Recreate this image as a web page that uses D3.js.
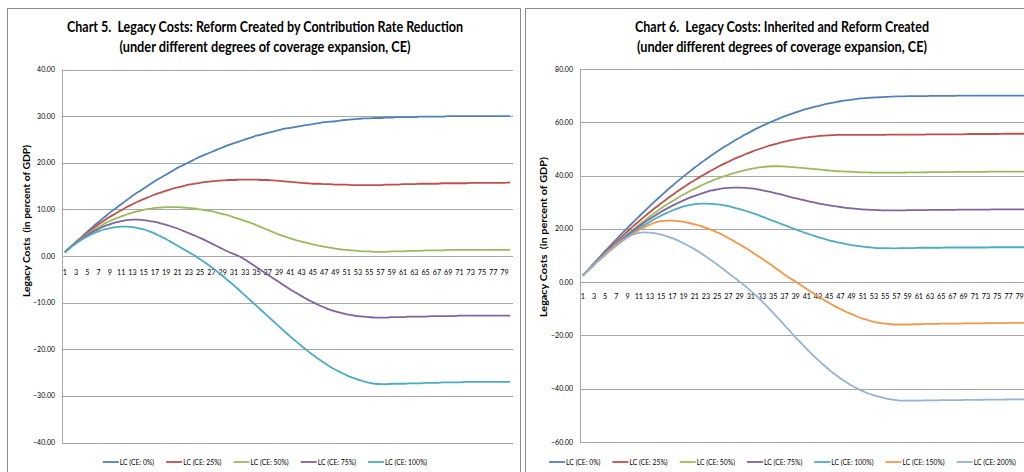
<!DOCTYPE html>
<html>
<head>
<meta charset="utf-8">
<script src="https://cdn.jsdelivr.net/npm/d3@7"></script>
<style>
body { margin: 0; background: #fff; }
text { font-family: Lato, "Open Sans", sans-serif; fill: #000; white-space: pre; }
</style>
</head>
<body>
<div id="chart"></div>
<script>
// Categories (years 1..80) and axis ticks
var years = d3.range(1, 81);
var xTickLabels = d3.range(1, 80, 2);
var yTicks5 = [-40, -30, -20, -10, 0, 10, 20, 30, 40];
var yTicks6 = [-60, -40, -20, 0, 20, 40, 60, 80];

var names5 = ["LC (CE: 0%)", "LC (CE: 25%)", "LC (CE: 50%)", "LC (CE: 75%)", "LC (CE: 100%)"];
var names6 = ["LC (CE: 0%)", "LC (CE: 25%)", "LC (CE: 50%)", "LC (CE: 75%)", "LC (CE: 100%)", "LC (CE: 150%)", "LC (CE: 200%)"];

// Chart 5 series
var lc5_0 = [0.8,1.9,3.0,4.1,5.2,6.3,7.3,8.3,9.3,10.2,
  11.1,12.0,12.9,13.7,14.5,15.3,16.1,16.8,17.5,18.2,
  18.9,19.5,20.1,20.7,21.3,21.8,22.3,22.8,23.3,23.8,
  24.2,24.6,25.0,25.4,25.8,26.1,26.4,26.7,27.0,27.3,
  27.5,27.7,27.9,28.1,28.3,28.5,28.7,28.8,28.9,29.1,
  29.2,29.3,29.4,29.5,29.5,29.6,29.6,29.7,29.7,29.8,
  29.8,29.8,29.8,29.9,29.9,29.9,29.9,29.9,30.0,30.0,
  30.0,30.0,30.0,30.0,30.0,30.0,30.0,30.0,30.0,30.0];
var lc5_25 = [0.8,1.9,3.0,4.0,5.0,5.9,6.8,7.6,8.4,9.1,
  9.8,10.5,11.1,11.7,12.2,12.7,13.2,13.6,14.0,14.4,
  14.7,15.0,15.3,15.5,15.7,15.9,16.0,16.1,16.2,16.3,
  16.3,16.4,16.4,16.4,16.4,16.3,16.3,16.2,16.1,16.0,
  15.9,15.8,15.7,15.6,15.5,15.5,15.4,15.4,15.3,15.3,
  15.3,15.2,15.2,15.2,15.2,15.2,15.2,15.3,15.3,15.3,
  15.4,15.4,15.4,15.5,15.5,15.5,15.5,15.6,15.6,15.6,
  15.6,15.6,15.7,15.7,15.7,15.7,15.7,15.7,15.7,15.8];
var lc5_50 = [0.8,1.9,2.9,3.8,4.7,5.5,6.2,6.9,7.5,8.0,
  8.5,8.9,9.3,9.6,9.9,10.1,10.3,10.4,10.5,10.5,
  10.5,10.4,10.3,10.2,10.0,9.8,9.6,9.3,9.0,8.7,
  8.3,7.9,7.5,7.1,6.6,6.1,5.6,5.1,4.6,4.2,
  3.8,3.4,3.1,2.8,2.5,2.2,2.0,1.8,1.6,1.4,
  1.3,1.2,1.1,1.0,1.0,0.9,0.9,0.9,1.0,1.0,
  1.0,1.1,1.1,1.1,1.2,1.2,1.2,1.2,1.3,1.3,
  1.3,1.3,1.3,1.3,1.3,1.3,1.3,1.3,1.3,1.3];
var lc5_75 = [0.8,1.9,2.8,3.7,4.5,5.2,5.8,6.4,6.8,7.2,
  7.5,7.7,7.8,7.8,7.7,7.5,7.3,7.0,6.7,6.3,
  5.9,5.4,4.9,4.4,3.9,3.3,2.7,2.1,1.5,0.9,
  0.4,-0.1,-0.8,-1.6,-2.4,-3.2,-4.0,-4.8,-5.6,-6.4,
  -7.2,-7.9,-8.6,-9.3,-9.9,-10.5,-11.0,-11.5,-11.9,-12.2,
  -12.5,-12.7,-12.9,-13.0,-13.1,-13.2,-13.2,-13.2,-13.1,-13.1,
  -13.1,-13.0,-13.0,-13.0,-13.0,-12.9,-12.9,-12.9,-12.9,-12.9,
  -12.8,-12.8,-12.8,-12.8,-12.8,-12.8,-12.8,-12.8,-12.8,-12.8];
var lc5_100 = [0.8,1.8,2.7,3.5,4.2,4.8,5.3,5.7,6.0,6.2,
  6.3,6.3,6.2,6.0,5.7,5.3,4.8,4.2,3.6,2.9,
  2.2,1.5,0.8,0.1,-0.7,-1.5,-2.4,-3.3,-4.3,-5.3,
  -6.3,-7.4,-8.5,-9.6,-10.7,-11.8,-12.9,-14.0,-15.1,-16.2,
  -17.3,-18.3,-19.3,-20.3,-21.2,-22.1,-22.9,-23.7,-24.4,-25.0,
  -25.6,-26.1,-26.5,-26.9,-27.2,-27.4,-27.5,-27.5,-27.4,-27.4,
  -27.4,-27.3,-27.3,-27.3,-27.2,-27.2,-27.2,-27.1,-27.1,-27.1,
  -27.1,-27.0,-27.0,-27.0,-27.0,-27.0,-27.0,-27.0,-27.0,-27.0];

// Chart 6 series
var lc6_0 = [2.5,4.8,7.1,9.4,11.7,13.9,16.1,18.3,20.4,22.5,
  24.6,26.6,28.6,30.6,32.5,34.4,36.2,38.0,39.7,41.4,
  43.0,44.6,46.1,47.6,49.0,50.4,51.7,53.0,54.2,55.4,
  56.5,57.6,58.6,59.6,60.5,61.4,62.2,63.0,63.7,64.4,
  65.0,65.6,66.1,66.6,67.1,67.5,67.9,68.2,68.5,68.8,
  69.0,69.2,69.3,69.4,69.5,69.6,69.7,69.7,69.8,69.8,
  69.8,69.8,69.9,69.9,69.9,69.9,69.9,70.0,70.0,70.0,
  70.0,70.0,70.0,70.0,70.0,70.0,70.0,70.0,70.0,70.0];
var lc6_25 = [2.5,4.7,6.9,9.0,11.1,13.2,15.2,17.2,19.1,21.0,
  22.8,24.6,26.3,28.0,29.6,31.2,32.7,34.2,35.6,37.0,
  38.3,39.6,40.8,42.0,43.1,44.2,45.2,46.2,47.1,48.0,
  48.8,49.6,50.3,51.0,51.6,52.2,52.7,53.2,53.6,54.0,
  54.3,54.6,54.8,55.0,55.1,55.2,55.3,55.3,55.3,55.3,
  55.3,55.3,55.3,55.3,55.3,55.4,55.4,55.4,55.4,55.4,
  55.4,55.4,55.5,55.5,55.5,55.5,55.5,55.5,55.5,55.6,
  55.6,55.6,55.6,55.6,55.6,55.7,55.7,55.7,55.7,55.7];
var lc6_50 = [2.5,4.6,6.7,8.7,10.7,12.6,14.5,16.3,18.1,19.8,
  21.5,23.1,24.7,26.2,27.7,29.1,30.4,31.7,32.9,34.0,
  35.1,36.1,37.1,38.0,38.8,39.6,40.3,40.9,41.5,42.0,
  42.5,42.9,43.2,43.4,43.5,43.5,43.4,43.3,43.1,42.9,
  42.7,42.5,42.3,42.1,41.9,41.7,41.6,41.5,41.4,41.3,
  41.2,41.2,41.1,41.1,41.1,41.1,41.1,41.1,41.2,41.2,
  41.2,41.2,41.3,41.3,41.3,41.3,41.3,41.4,41.4,41.4,
  41.4,41.4,41.4,41.5,41.5,41.5,41.5,41.5,41.5,41.5];
var lc6_75 = [2.5,4.6,6.6,8.6,10.5,12.4,14.2,16.0,17.7,19.3,
  20.9,22.4,23.8,25.1,26.4,27.6,28.7,29.7,30.7,31.6,
  32.4,33.1,33.8,34.4,34.8,35.2,35.4,35.5,35.5,35.4,
  35.2,34.9,34.5,34.1,33.6,33.1,32.6,32.0,31.5,31.0,
  30.5,30.0,29.6,29.2,28.8,28.5,28.2,27.9,27.7,27.5,
  27.3,27.2,27.1,27.0,26.9,26.9,26.9,26.9,27.0,27.0,
  27.0,27.0,27.1,27.1,27.1,27.1,27.1,27.2,27.2,27.2,
  27.2,27.2,27.2,27.3,27.3,27.3,27.3,27.3,27.3,27.3];
var lc6_100 = [2.5,4.5,6.5,8.4,10.3,12.1,13.8,15.5,17.1,18.6,
  20.0,21.4,22.7,23.9,25.0,26.0,26.9,27.7,28.4,28.9,
  29.3,29.5,29.5,29.4,29.2,28.9,28.5,28.0,27.4,26.8,
  26.1,25.4,24.6,23.8,23.0,22.2,21.4,20.6,19.8,19.0,
  18.3,17.6,16.9,16.3,15.7,15.2,14.7,14.3,13.9,13.6,
  13.3,13.1,12.9,12.8,12.8,12.7,12.7,12.8,12.8,12.8,
  12.9,12.9,12.9,12.9,12.9,13.0,13.0,13.0,13.0,13.0,
  13.0,13.0,13.0,13.1,13.1,13.1,13.1,13.1,13.1,13.1];
var lc6_150 = [2.5,4.5,6.5,8.4,10.2,12.0,13.7,15.3,16.8,18.2,
  19.5,20.6,21.6,22.4,22.9,23.1,23.1,22.9,22.6,22.2,
  21.7,21.1,20.4,19.6,18.7,17.7,16.6,15.4,14.2,12.9,
  11.6,10.2,8.8,7.4,5.9,4.4,2.9,1.5,0.2,-1.2,
  -2.6,-4.0,-5.3,-6.6,-7.8,-9.0,-10.1,-11.1,-12.0,-12.9,
  -13.7,-14.3,-14.9,-15.3,-15.6,-15.8,-15.9,-15.9,-15.9,-15.8,
  -15.8,-15.7,-15.7,-15.7,-15.6,-15.6,-15.6,-15.6,-15.5,-15.5,
  -15.5,-15.5,-15.4,-15.4,-15.4,-15.4,-15.3,-15.3,-15.3,-15.3];
var lc6_200 = [2.5,4.5,6.5,8.5,10.4,12.3,14.0,15.6,16.9,17.9,
  18.5,18.7,18.6,18.3,17.8,17.2,16.5,15.6,14.6,13.5,
  12.3,11.0,9.6,8.1,6.6,5.0,3.4,1.8,0.2,-1.5,
  -3.3,-5.2,-7.2,-9.3,-11.5,-13.8,-16.1,-18.4,-20.7,-22.9,
  -25.1,-27.2,-29.2,-31.1,-32.9,-34.6,-36.1,-37.5,-38.8,-39.9,
  -40.9,-41.8,-42.5,-43.1,-43.6,-44.0,-44.3,-44.5,-44.5,-44.5,
  -44.5,-44.4,-44.4,-44.4,-44.3,-44.3,-44.3,-44.3,-44.2,-44.2,
  -44.2,-44.2,-44.1,-44.1,-44.1,-44.1,-44.0,-44.0,-44.0,-44.0];

var colors = ["#4F81BD", "#C0504D", "#9BBB59", "#8064A2", "#4BACC6", "#F79646", "#95B3D7"];

var svgWidth = 1024;
var svgHeight = 472;

var svg = d3.select("#chart")
  .append("svg")
  .attr("width", svgWidth)
  .attr("height", svgHeight);

// Chart settings (layout only)
var charts = [
  {
    box: [7.5, 8.5, 513, 520],
    left: 62, right: 513, top: 69.5, bottom: 442.5,
    domain: [-40, 40], ticks: yTicks5,
    series: [lc5_0, lc5_25, lc5_50, lc5_75, lc5_100], names: names5,
    title: ["Chart 5.  Legacy Costs: Reform Created by Contribution Rate Reduction",
            "(under different degrees of coverage expansion, CE)"],
    titleX: 265, titleW: [396, 291],
    yTitleX: 30, yTitleY: 221, yTitleW: 152,
    labelDy: 18.5, legendX: 265, legendY: 462
  },
  {
    box: [525.5, 8.5, 540, 520],
    left: 580, right: 1028, top: 69, bottom: 442,
    domain: [-60, 80], ticks: yTicks6,
    series: [lc6_0, lc6_25, lc6_50, lc6_75, lc6_100, lc6_150, lc6_200], names: names6,
    title: ["Chart 6.  Legacy Costs: Inherited and Reform Created",
            "(under different degrees of coverage expansion, CE)"],
    titleX: 782, titleW: [294, 290],
    yTitleX: 547, yTitleY: 237, yTitleW: 160,
    labelDy: 16.5, legendX: 782.5, legendY: 462
  }
];

charts.forEach(function(c) {
  var g = svg.append("g");

  // panel border
  g.append("rect")
    .attr("x", c.box[0]).attr("y", c.box[1])
    .attr("width", c.box[2]).attr("height", c.box[3])
    .attr("fill", "none")
    .attr("stroke", "#8c8c8c")
    .attr("stroke-width", 1);

  var x = d3.scalePoint().domain(years).range([c.left, c.right]).padding(0.5);
  var y = d3.scaleLinear().domain(c.domain).range([c.bottom, c.top]);

  // gridlines
  g.append("g").selectAll("line")
    .data(c.ticks)
    .enter()
    .append("line")
    .attr("x1", c.left).attr("x2", c.right)
    .attr("y1", d => Math.round(y(d)) + 0.5)
    .attr("y2", d => Math.round(y(d)) + 0.5)
    .attr("stroke", "#a6a6a6")
    .attr("stroke-width", 1);

  // vertical axis line
  g.append("line")
    .attr("x1", c.left + 0.5).attr("x2", c.left + 0.5)
    .attr("y1", y(c.domain[1])).attr("y2", y(c.domain[0]))
    .attr("stroke", "#a6a6a6");

  // y tick labels
  g.append("g").selectAll("text")
    .data(c.ticks)
    .enter()
    .append("text")
    .attr("x", c.left - 7)
    .attr("y", d => y(d) + 2.5)
    .attr("text-anchor", "end")
    .attr("font-size", "7px")
    .text(d => d3.format(".2f")(d));

  // x tick labels along zero line
  g.append("g").selectAll("text")
    .data(xTickLabels)
    .enter()
    .append("text")
    .attr("x", d => x(d))
    .attr("y", y(0) + c.labelDy)
    .attr("text-anchor", "middle")
    .attr("font-size", "7.2px")
    .text(d => d);

  // lines
  var line = d3.line()
    .x((d, i) => x(years[i]))
    .y(d => y(d))
    .curve(d3.curveMonotoneX);

  g.append("g")
    .selectAll("path")
    .data(c.series)
    .enter()
    .append("path")
    .attr("d", line)
    .attr("fill", "none")
    .attr("stroke", (d, i) => colors[i])
    .attr("stroke-width", 1.8);

  // titles
  c.title.forEach(function(t, i) {
    g.append("text")
      .attr("x", c.titleX)
      .attr("y", 32 + i * 19.5)
      .attr("text-anchor", "middle")
      .attr("font-size", "15px")
      .attr("font-weight", "bold")
      .attr("textLength", c.titleW[i])
      .attr("lengthAdjust", "spacingAndGlyphs")
      .text(t);
  });

  // y axis title
  g.append("text")
    .attr("transform", `translate(${c.yTitleX}, ${c.yTitleY}) rotate(-90)`)
    .attr("text-anchor", "middle")
    .attr("font-size", "9.5px")
    .attr("font-weight", "bold")
    .attr("textLength", c.yTitleW)
    .attr("lengthAdjust", "spacingAndGlyphs")
    .text("Legacy Costs  (in percent of GDP)");

  // legend
  var legend = g.append("g");
  var pos = 0;
  c.names.forEach(function(n, i) {
    var item = legend.append("g").attr("transform", `translate(${pos}, 0)`);
    item.append("line")
      .attr("x1", 0).attr("x2", 16)
      .attr("y1", 0).attr("y2", 0)
      .attr("stroke", colors[i])
      .attr("stroke-width", 1.8);
    var t = item.append("text")
      .attr("x", 17)
      .attr("y", 2.5)
      .attr("font-size", "6.8px")
      .text(n);
    pos += 17 + t.node().getComputedTextLength() + 12;
  });
  var total = pos - 12;
  legend.attr("transform", `translate(${c.legendX - total / 2}, ${c.legendY})`);
});
</script>
</body>
</html>
